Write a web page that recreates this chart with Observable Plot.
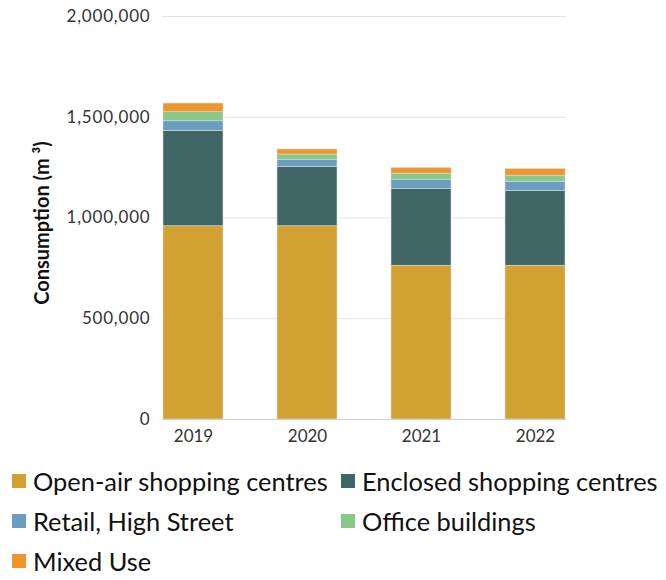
<!DOCTYPE html>
<html>
<head>
<meta charset="utf-8">
<script src="https://cdn.jsdelivr.net/npm/d3@7"></script>
<script src="https://cdn.jsdelivr.net/npm/@observablehq/plot@0.6"></script>
<style>
  body { margin: 0; background: #fff; font-family: Lato, sans-serif; }
  #chart svg { display: block; }
  .legend { display: grid; grid-template-columns: 329px 330px; margin-left: 12px; margin-top: 6px; row-gap: 0; }
  .item { display: flex; align-items: center; height: 40px; font-size: 25.4px; color: #111; white-space: nowrap; }
  .sw { width: 14px; height: 14px; margin-right: 7px; flex: none; }
</style>
</head>
<body>
<div id="chart"></div>
<div class="legend" id="legend"></div>
<script>
const years = ["2019", "2020", "2021", "2022"];
const seriesNames = ["Open-air shopping centres", "Enclosed shopping centres", "Retail, High Street", "Office buildings", "Mixed Use"];
const openAir   = [959000, 959000, 763000, 763000];
const enclosed  = [473000, 295000, 380000, 370000];
const retail    = [48000, 35000, 47000, 47000];
const office    = [45000, 26000, 30000, 30000];
const mixedUse  = [43000, 25000, 28000, 33000];
const colors = ["#D1A232", "#3F6664", "#6A9DBF", "#88C98A", "#EF962A"];
const yTicks = [0, 500000, 1000000, 1500000, 2000000];
const yLabel = "Consumption (m \u00B3)";

const seriesValues = [openAir, enclosed, retail, office, mixedUse];
const data = [];
seriesNames.forEach((s, i) => years.forEach((y, j) => data.push({year: y, series: s, value: seriesValues[i][j]})));

const fmt = d3.format(",");
const chart = Plot.plot({
  width: 666,
  height: 455,
  marginTop: 16,
  marginBottom: 36,
  marginLeft: 162,
  marginRight: 100,
  style: {fontFamily: "Lato, sans-serif", fontSize: "17px", color: "#333"},
  x: {domain: years, paddingInner: 0.477, paddingOuter: 0, label: null},
  y: {domain: [0, 2000000], ticks: yTicks, label: null},
  color: {domain: seriesNames, range: colors},
  marks: [
    Plot.gridY(yTicks, {stroke: "#e3e3e3", strokeOpacity: 1}),
    Plot.barY(data, {x: "year", y: "value", fill: "series", stroke: "#d9d9d9", strokeWidth: 0.6}),
    Plot.ruleY([0], {stroke: "#d0d0d0"}),
    Plot.axisY(yTicks, {tickSize: 0, tickPadding: 12, tickFormat: fmt, label: null, fill: "#333", fontSize: 17}),
    Plot.axisX({tickSize: 0, tickPadding: 10, label: null, fill: "#333", fontSize: 17}),
    Plot.text([yLabel], {frameAnchor: "left", textAnchor: "middle", rotate: -90, dx: -120, dy: 5, fontWeight: "bold", fontSize: 20, fill: "#111"})
  ]
});
document.getElementById("chart").appendChild(chart);
chart.querySelectorAll("g[aria-label='y-axis tick label']").forEach(g => g.style.letterSpacing = "0.8px");

const legend = document.getElementById("legend");
seriesNames.forEach((s, i) => {
  const it = document.createElement("div");
  it.className = "item";
  const sw = document.createElement("span");
  sw.className = "sw";
  sw.style.background = colors[i];
  it.appendChild(sw);
  it.appendChild(document.createTextNode(s));
  legend.appendChild(it);
});
</script>
</body>
</html>
